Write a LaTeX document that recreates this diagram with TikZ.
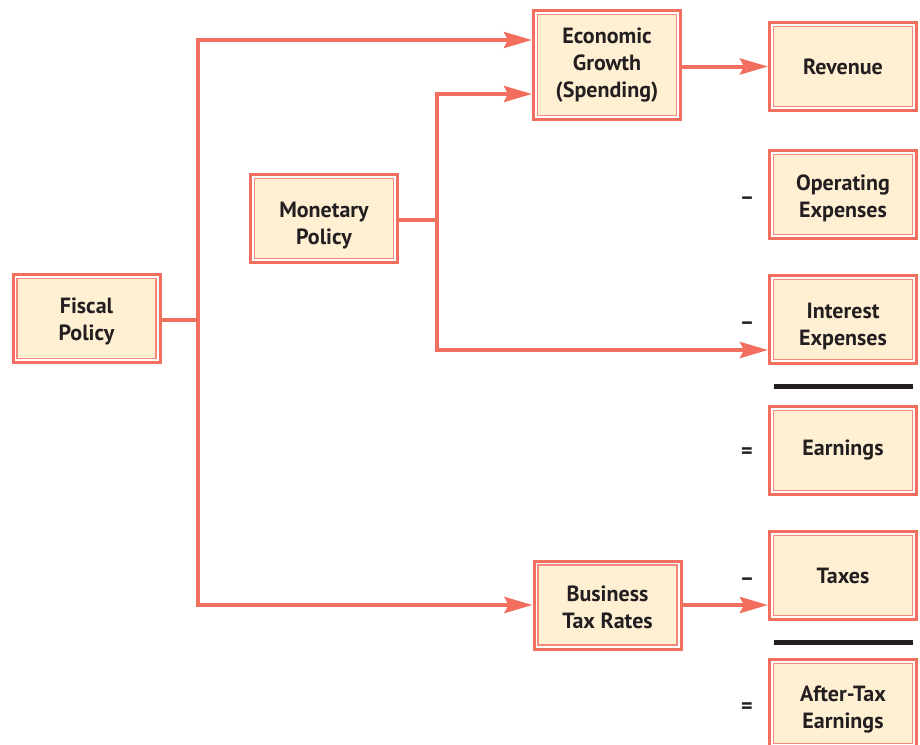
\documentclass[tikz,border=0pt]{standalone}
\usepackage{fontspec}
\setmainfont{PT Sans}
\usetikzlibrary{arrows.meta}
\definecolor{sal}{HTML}{F26E5E}
\definecolor{salin}{HTML}{F4887A}
\definecolor{cream}{HTML}{FFF0D4}
\definecolor{ink}{HTML}{231F20}
\tikzset{
  fbox/.style={draw=sal, line width=3pt, fill=white, minimum width=147pt, minimum height=88pt,
    inner sep=0pt,
    path picture={\draw[salin, line width=1.2pt, fill=cream]
      ([shift={(4pt,4pt)}]path picture bounding box.south west) rectangle
      ([shift={(-4pt,-4pt)}]path picture bounding box.north east);}},
  txt/.style={align=center, font=\fontsize{22}{27}\selectfont\bfseries, text=ink, inner sep=0pt},
  conn/.style={draw=sal, line width=4pt},
  arr/.style={conn, -{Stealth[length=28pt,width=16pt,inset=4pt]}},
  sign/.style={font=\fontsize{22}{24}\selectfont\bfseries, text=ink, inner sep=0pt},
  rule/.style={draw=ink, line width=5pt}
}
\begin{document}
\begin{tikzpicture}[x=1pt,y=-1pt]
\useasboundingbox (0,0) rectangle (920,744);
\node[fbox, label={[txt,yshift=-3pt]center:Fiscal\\Policy}] (F) at (86.5,318.5) {};
\node[fbox, label={[txt,yshift=-7pt]center:Monetary\\Policy}] (M) at (324,218.5) {};
\node[fbox, minimum height=109pt, label={[txt]center:Economic\\Growth\\(Spending)}] (EG) at (607,65) {};
\node[fbox, label={[txt,yshift=-2pt]center:Business\\Tax Rates}] (BT) at (607.5,605) {};
\node[fbox, label={[txt]center:Revenue}] (R) at (843,66.5) {};
\node[fbox, label={[txt,yshift=-4pt]center:Operating\\Expenses}] (OE) at (843,194.5) {};
\node[fbox, label={[txt,yshift=-7pt]center:Interest\\Expenses}] (IE) at (843,319.5) {};
\node[fbox, label={[txt]center:Earnings}] (E) at (843,450.5) {};
\node[fbox, label={[txt]center:Taxes}] (T) at (843,575.5) {};
\node[fbox, label={[txt,yshift=-6pt]center:After-Tax\\Earnings}] (AT) at (843,703.5) {};
\node[sign] (s1) at (747,201) {–};
\node[sign] (s2) at (747,326) {–};
\node[sign] (s3) at (747,453) {=};
\node[sign] (s4) at (747,582) {–};
\node[sign] (s5) at (747,708) {=};
\coordinate (r1a) at (774,386); \coordinate (r1b) at (913,386);
\coordinate (r2a) at (774,642); \coordinate (r2b) at (913,642);
\draw[rule] (r1a) -- (r1b);
\draw[rule] (r2a) -- (r2b);
\coordinate (fj) at (198,320);
\coordinate (mj) at (437,220);
\draw[conn] (F.east |- fj) -- (fj);
\draw[arr] (fj) |- ([yshift=25pt]EG.west);
\draw[arr] (fj) |- (BT.west);
\draw[conn] (M.east |- mj) -- (mj);
\draw[arr] (mj) |- ([yshift=-29pt]EG.west);
\draw[arr] (mj) |- ([yshift=-30.5pt]IE.west);
\draw[arr] (EG.east |- R.west) -- (R.west);
\draw[arr] (BT.east) -- (BT.east -| T.west);
\end{tikzpicture}
\end{document}
